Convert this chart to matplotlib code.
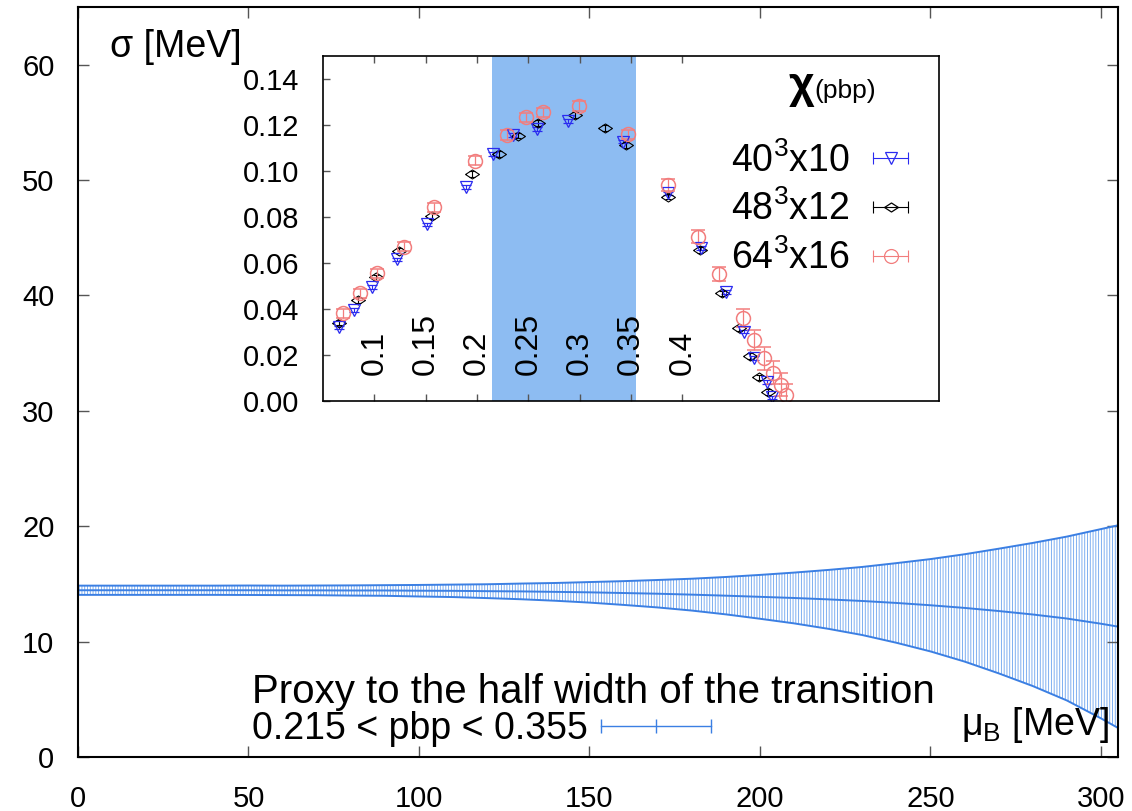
import numpy as np
import matplotlib
matplotlib.use('Agg')
import matplotlib.pyplot as plt
from matplotlib.lines import Line2D
from matplotlib.legend_handler import HandlerLine2D

plt.rcParams['font.family'] = ['Liberation Sans', 'DejaVu Sans']
plt.rcParams['mathtext.fontset'] = 'custom'
plt.rcParams['mathtext.rm'] = 'Liberation Sans'
plt.rcParams['mathtext.it'] = 'Liberation Sans:italic'
plt.rcParams['hatch.linewidth'] = 0.6

# main plot: sigma vs mu_B
mu_b = [0, 10, 20, 30, 40, 50, 60, 70, 80, 90, 100, 110, 120, 130, 140, 150,
        160, 170, 180, 190, 200, 210, 220, 230, 240, 250, 260, 270, 280, 290,
        300, 305]
sigma_c = [14.45, 14.45, 14.45, 14.45, 14.45, 14.45, 14.44, 14.44, 14.43,
           14.43, 14.41, 14.40, 14.37, 14.35, 14.31, 14.27, 14.21, 14.15,
           14.07, 13.98, 13.88, 13.78, 13.66, 13.52, 13.35, 13.15, 12.92,
           12.65, 12.35, 12.00, 11.55, 11.30]
sigma_err = [0.40, 0.40, 0.40, 0.40, 0.40, 0.41, 0.41, 0.42, 0.44, 0.46,
             0.50, 0.54, 0.60, 0.68, 0.77, 0.89, 1.03, 1.19, 1.38, 1.62,
             1.90, 2.20, 2.55, 2.95, 3.45, 4.00, 4.65, 5.40, 6.20, 7.10,
             8.20, 8.78]

# inset: chiral susceptibility vs pbp
x_40 = [0.066, 0.080, 0.098, 0.122, 0.151, 0.189, 0.216, 0.235, 0.258, 0.289,
        0.342, 0.386, 0.418, 0.443, 0.460, 0.470, 0.482, 0.487]
y_40 = [0.0320, 0.0396, 0.0497, 0.0616, 0.0768, 0.0932, 0.1074, 0.1157,
        0.1182, 0.1218, 0.1128, 0.0903, 0.0664, 0.0473, 0.0302, 0.0186,
        0.0084, 0.0016]
x_48 = [0.066, 0.084, 0.102, 0.124, 0.156, 0.195, 0.221, 0.240, 0.259, 0.295,
        0.325, 0.345, 0.386, 0.417, 0.439, 0.455, 0.466, 0.475, 0.483]
y_48 = [0.0341, 0.0439, 0.0538, 0.0654, 0.0805, 0.0987, 0.1074, 0.1154,
        0.1208, 0.1244, 0.1186, 0.1114, 0.0889, 0.0657, 0.0468, 0.0316,
        0.0196, 0.0103, 0.0040]
x_64 = [0.070, 0.086, 0.103, 0.129, 0.158, 0.198, 0.229, 0.248, 0.264, 0.299,
        0.347, 0.386, 0.415, 0.436, 0.459, 0.470, 0.480, 0.488, 0.496, 0.501]
y_64 = [0.0381, 0.0468, 0.0555, 0.0671, 0.0843, 0.1045, 0.1157, 0.1234,
        0.1256, 0.1283, 0.1160, 0.0940, 0.0715, 0.0551, 0.0360, 0.0265,
        0.0186, 0.0123, 0.0070, 0.0026]
yerr_40 = 0.0008
yerr_48 = 0.0012
yerr_64 = [0.002] * 11 + [0.0025, 0.003, 0.003, 0.004, 0.0045, 0.005, 0.005,
                          0.005, 0.005]
band_lo, band_hi = 0.215, 0.355
inset_xticks = [0.1, 0.15, 0.2, 0.25, 0.3, 0.35, 0.4]
inset_yticks = [0.0, 0.02, 0.04, 0.06, 0.08, 0.10, 0.12, 0.14]

fig = plt.figure(figsize=(11.32, 8.11), dpi=100)
ax = fig.add_axes([0.0689, 0.0666, 0.9187, 0.9248])

blue = '#3b7fe3'
c = np.array(sigma_c)
e = np.array(sigma_err)
ax.fill_between(mu_b, c - e, c + e, facecolor='none', edgecolor='#6aa2ee',
                hatch='||||||', linewidth=0)
ax.plot(mu_b, c + e, color=blue, lw=1.4)
ax.plot(mu_b, c - e, color=blue, lw=1.4)
ax.plot(mu_b, c, color=blue, lw=1.4)

ax.set_xlim(0, 305)
ax.set_ylim(0, 65)
ax.set_xticks(range(0, 301, 50))
ax.set_yticks(range(0, 61, 10))
ax.tick_params(direction='in', length=8, width=1, top=True, right=True,
               labelsize=21, color='#555555')
ax.tick_params(axis='x', pad=20)
ax.tick_params(axis='y', pad=17)
for s in ax.spines.values():
    s.set_linewidth(1.5)

ax.text(0.031, 0.933, 'σ [MeV]', transform=ax.transAxes, fontsize=27,
        ha='left', va='baseline')
ax.text(0.992, 0.029, r'$\mathrm{μ}_\mathrm{B}$ [MeV]', transform=ax.transAxes,
        fontsize=27, ha='right', va='baseline')

key_line = Line2D([], [], color=blue, lw=1, marker='|', ms=10, mew=1)
leg = ax.legend([key_line], ['0.215 < pbp < 0.355'],
                title='Proxy to the half width of the transition',
                title_fontsize=29, fontsize=27, markerfirst=False,
                alignment='left', frameon=False, handlelength=2.93,
                handletextpad=0.36, borderpad=0, borderaxespad=0,
                labelspacing=0, loc='lower left',
                bbox_to_anchor=(0.167, 0.013),
                handler_map={key_line: HandlerLine2D(numpoints=3, marker_pad=0)})

# inset
ax_in = fig.add_axes([0.2853, 0.5055, 0.5442, 0.4254], zorder=5)
ax_in.axvspan(band_lo, band_hi, color='#8dbcf2', lw=0, zorder=0)

diamond = [(-1, 0), (0, 0.65), (1, 0), (0, -0.65), (-1, 0)]
red = '#f27d7d'
ax_in.errorbar(x_40, y_40, yerr=yerr_40, fmt='v', color='#2a2af0', ms=8,
               mfc='none', mew=0.9, elinewidth=0.8, capsize=3.5, capthick=0.8)
ax_in.errorbar(x_48, y_48, yerr=yerr_48, fmt='none', color='black',
               elinewidth=0.8, capsize=2.5, capthick=0.8)
ax_in.plot(x_48, y_48, ls='none', marker=diamond, ms=10, mfc='none',
           mec='black', mew=0.8)
ax_in.errorbar(x_64, y_64, yerr=yerr_64, fmt='o', color=red, ms=10,
               mfc='none', mew=1.1, elinewidth=0.9, capsize=5, capthick=0.9)

ax_in.set_xlim(0.05, 0.65)
ax_in.set_ylim(0, 0.15)
ax_in.set_xticks(inset_xticks)
ax_in.set_yticks(inset_yticks)
ax_in.set_yticklabels(['%.2f' % v for v in inset_yticks])
ax_in.tick_params(direction='in', length=5, width=1, color='#555555',
                  labelsize=21)
ax_in.tick_params(axis='x', top=True, labelbottom=False)
ax_in.tick_params(axis='y', pad=17)
for s in ax_in.spines.values():
    s.set_linewidth(1.2)

for xt in inset_xticks:
    ax_in.text(xt, 0.0113, '%g' % xt, rotation=90, ha='center', va='bottom',
               fontsize=23)

ax_in.text(0.756, 0.878, 'χ', transform=ax_in.transAxes, fontsize=32,
           fontweight='bold', ha='left', va='baseline')
ax_in.text(0.797, 0.878, '(pbp)', transform=ax_in.transAxes, fontsize=19,
           ha='left', va='baseline')

handles = []
hmap = {}
for col, mk, ms in [('#2a2af0', 'v', 8), ('black', diamond, 10), (red, 'o', 10)]:
    bar = Line2D([], [], color=col, lw=0.8, marker='|', ms=8, mew=0.8)
    mark = Line2D([], [], color=col, ls='none', marker=mk, ms=ms, mfc='none',
                  mew=0.9)
    hmap[bar] = HandlerLine2D(numpoints=2, marker_pad=0)
    hmap[mark] = HandlerLine2D(numpoints=1)
    handles.append((bar, mark))
ax_in.legend(handles, [r'40$^3$x10', r'48$^3$x12', r'64$^3$x16'],
             handler_map=hmap, fontsize=27, markerfirst=False, frameon=False,
             handlelength=0.93, handletextpad=0.64, borderpad=0,
             borderaxespad=0, labelspacing=0.3, loc='upper right',
             bbox_to_anchor=(0.950, 0.751))

fig.savefig('out.png', dpi=100)
